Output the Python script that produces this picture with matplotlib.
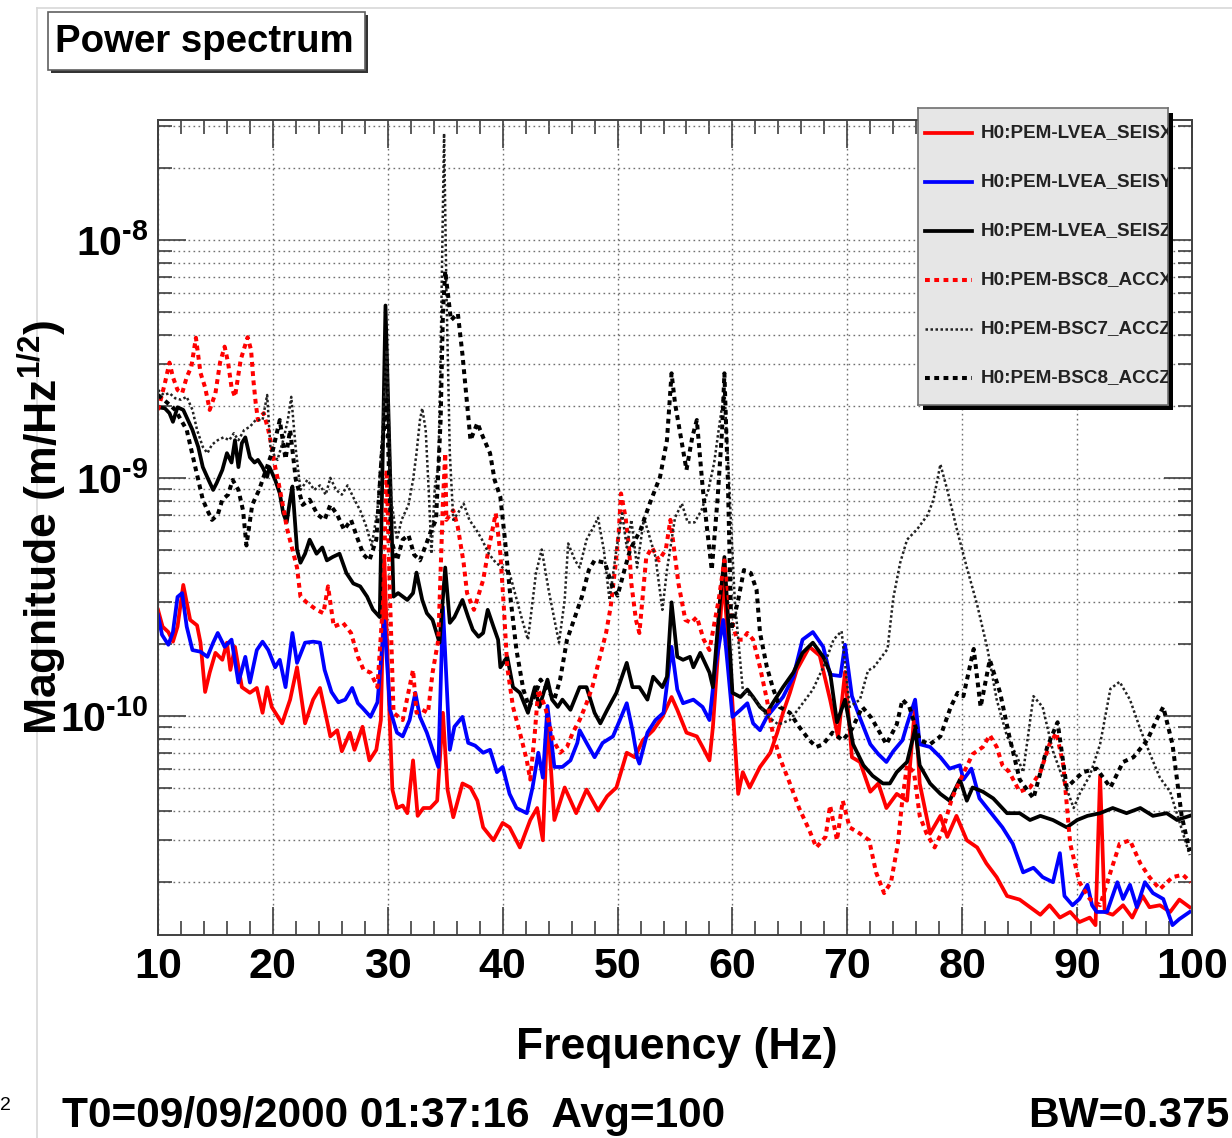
import matplotlib
matplotlib.use('Agg')
import matplotlib.pyplot as plt
import numpy as np
from matplotlib.ticker import MultipleLocator, LogLocator, FixedLocator, FuncFormatter, NullFormatter
from matplotlib.patches import Rectangle
from matplotlib.lines import Line2D

plt.rcParams['font.family'] = ['Liberation Sans', 'DejaVu Sans']
plt.rcParams['font.weight'] = 'bold'
plt.rcParams['mathtext.fontset'] = 'custom'
plt.rcParams['mathtext.rm'] = 'Liberation Sans:bold'
plt.rcParams['mathtext.it'] = 'Liberation Sans:bold:italic'
plt.rcParams['mathtext.bf'] = 'Liberation Sans:bold'
plt.rcParams['mathtext.default'] = 'regular'
plt.rcParams['axes.unicode_minus'] = False

# ---------------- data (magnitudes in units of 1e-10 m/Hz^1/2) ----------------
UNIT = 1e-10
labels = ["H0:PEM-LVEA_SEISX", "H0:PEM-LVEA_SEISY", "H0:PEM-LVEA_SEISZ",
          "H0:PEM-BSC8_ACCX", "H0:PEM-BSC7_ACCZ", "H0:PEM-BSC8_ACCZ"]
xticks = [10, 20, 30, 40, 50, 60, 70, 80, 90, 100]
yticks = [1e-10, 1e-9, 1e-8]

seisx_f = [10.0, 10.4, 10.9, 11.3, 11.7, 12.2, 12.8, 13.4, 13.7, 14.1, 14.5, 15.0, 15.6, 16.0, 16.3, 16.7,
           17.3, 18.0, 18.6, 19.1, 19.5, 19.9, 20.8, 21.5, 22.1, 22.8, 23.5, 24.1, 25.0, 25.6, 26.0, 26.7,
           27.1, 27.8, 28.4, 29.0, 29.4, 29.7, 30.1, 30.4, 30.8, 31.3, 31.7, 32.2, 32.6, 33.1, 33.7, 34.3,
           34.8, 35.2, 35.7, 36.5, 37.2, 37.8, 38.3, 39.2, 40.0, 40.6, 41.5, 42.4, 43.0, 43.5, 43.9, 44.5,
           45.4, 46.4, 47.3, 48.3, 49.1, 49.9, 50.8, 51.5, 52.2, 53.1, 53.9, 54.7, 55.2, 56.0, 56.9, 57.4,
           58.0, 58.3, 59.2, 59.8, 60.5, 60.9, 61.5, 62.4, 63.3, 63.9, 64.4, 65.0, 65.6, 66.7, 67.6, 68.5,
           69.2, 69.8, 70.4, 71.1, 72.0, 72.7, 73.4, 74.3, 75.2, 75.9, 76.3, 77.2, 78.1, 78.7, 79.5, 80.4,
           81.3, 82.1, 83.0, 83.9, 85.0, 85.9, 86.8, 87.6, 88.5, 89.4, 90.2, 91.1, 91.6, 92.0, 92.4, 93.1,
           94.0, 94.8, 95.7, 96.3, 97.2, 98.1, 98.9, 99.8]
seisx_v = [2.79, 2.37, 2.25, 2.05, 2.37, 3.55, 2.53, 2.40, 2.03, 1.26, 1.52, 1.84, 1.72, 2.03, 1.56, 1.95,
           1.32, 1.25, 1.31, 1.03, 1.32, 1.09, 0.93, 1.17, 1.60, 0.93, 1.17, 1.31, 0.82, 0.87, 0.71, 0.85,
           0.72, 0.90, 0.65, 0.72, 0.96, 4.6, 1.17, 0.49, 0.41, 0.42, 0.39, 0.65, 0.38, 0.41, 0.41, 0.44,
           1.03, 0.49, 0.375, 0.52, 0.50, 0.44, 0.34, 0.30, 0.355, 0.34, 0.28, 0.365, 0.41, 0.30, 0.99, 0.365,
           0.50, 0.39, 0.49, 0.40, 0.46, 0.50, 0.70, 0.67, 0.79, 0.87, 0.99, 1.20, 1.06, 0.85, 0.82, 0.74,
           0.65, 0.90, 3.83, 1.61, 0.47, 0.58, 0.50, 0.61, 0.70, 0.85, 1.03, 1.25, 1.56, 1.95, 1.79, 1.17,
           0.81, 1.53, 0.67, 0.64, 0.48, 0.52, 0.41, 0.47, 0.44, 1.11, 0.52, 0.32, 0.38, 0.31, 0.38, 0.30,
           0.28, 0.24, 0.21, 0.175, 0.169, 0.157, 0.146, 0.16, 0.142, 0.15, 0.136, 0.142, 0.132, 0.56, 0.15, 0.146,
           0.16, 0.142, 0.175, 0.157, 0.16, 0.15, 0.169, 0.157]

seisy_f = [10.0, 10.35, 10.9, 11.3, 11.7, 12.1, 12.5, 13.0, 13.7, 14.3, 14.8, 15.2, 15.8, 16.4, 17.0, 17.6,
           18.0, 18.6, 19.1, 19.6, 20.2, 20.6, 21.1, 21.7, 22.1, 22.8, 23.5, 24.1, 24.5, 25.1, 25.7, 26.3,
           26.9, 27.4, 27.8, 28.5, 29.1, 29.7, 30.2, 30.8, 31.3, 31.9, 32.4, 32.8, 33.4, 33.9, 34.4, 34.8,
           35.4, 35.8, 36.5, 37.0, 37.6, 38.3, 38.9, 39.5, 40.0, 40.6, 41.2, 42.1, 42.6, 43.1, 43.5, 43.9,
           44.5, 45.2, 45.9, 46.5, 46.7, 47.3, 48.0, 48.7, 49.6, 50.2, 50.8, 51.3, 51.7, 51.9, 52.6, 53.3,
           54.0, 54.7, 55.2, 55.7, 56.6, 57.4, 58.0, 58.5, 59.2, 59.6, 60.0, 60.7, 61.3, 61.8, 62.4, 63.0,
           63.5, 64.4, 65.3, 66.1, 67.0, 67.9, 68.5, 69.4, 69.8, 70.4, 71.1, 72.0, 72.7, 73.4, 74.0, 74.8,
           75.2, 75.9, 76.3, 77.2, 78.1, 78.9, 79.8, 80.1, 80.8, 81.5, 82.7, 83.5, 84.4, 85.3, 86.2, 87.0,
           87.9, 88.5, 88.9, 89.6, 90.2, 90.9, 91.3, 91.7, 92.6, 93.5, 94.0, 94.6, 95.2, 95.9, 96.6, 97.5,
           98.3, 98.9, 99.8]
seisy_v = [2.66, 2.19, 1.99, 2.25, 3.16, 3.28, 2.37, 1.89, 1.86, 1.77, 2.03, 2.23, 1.95, 2.09, 1.38, 1.77,
           1.38, 1.89, 2.05, 1.89, 1.60, 1.72, 1.32, 2.23, 1.67, 2.03, 2.05, 2.03, 1.56, 1.26, 1.14, 1.17,
           1.31, 1.13, 1.08, 0.99, 1.14, 2.5, 1.06, 0.85, 0.82, 0.96, 1.25, 0.99, 0.85, 0.72, 0.61, 2.87,
           0.72, 0.90, 0.99, 0.77, 0.75, 0.70, 0.72, 0.58, 0.61, 0.47, 0.41, 0.39, 0.50, 0.70, 0.55, 1.10,
           0.61, 0.61, 0.65, 0.77, 0.87, 0.77, 0.67, 0.77, 0.82, 0.96, 1.13, 0.87, 0.67, 0.63, 0.85, 0.96,
           1.03, 1.95, 1.29, 1.13, 1.17, 1.09, 0.96, 1.60, 2.53, 1.60, 0.99, 1.06, 1.13, 0.93, 0.87, 0.99,
           1.06, 1.20, 1.46, 2.09, 2.25, 1.95, 1.49, 1.47, 1.99, 1.21, 0.98, 0.76, 0.69, 0.64, 0.71, 0.79,
           0.92, 1.17, 0.76, 0.74, 0.67, 0.60, 0.62, 0.54, 0.60, 0.45, 0.38, 0.34, 0.29, 0.22, 0.23, 0.21,
           0.20, 0.265, 0.175, 0.16, 0.17, 0.195, 0.16, 0.15, 0.15, 0.20, 0.17, 0.195, 0.157, 0.20, 0.18, 0.17,
           0.132, 0.14, 0.15]

seisz_f = [10.0, 10.6, 11.0, 11.3, 11.7, 12.2, 12.6, 13.0, 13.5, 13.9, 14.4, 14.8, 15.1, 15.6, 16.0, 16.4,
           16.7, 17.0, 17.3, 17.6, 18.0, 18.4, 18.7, 19.1, 19.5, 19.7, 20.2, 20.6, 20.9, 21.2, 21.5, 21.7,
           22.1, 22.4, 22.8, 23.2, 23.8, 24.3, 24.7, 25.2, 25.8, 26.4, 27.0, 27.6, 28.2, 28.7, 29.3, 29.8,
           30.5, 30.9, 31.7, 32.2, 32.5, 33.0, 33.4, 33.9, 34.5, 35.0, 35.4, 35.8, 36.5, 37.0, 37.4, 37.9,
           38.3, 38.7, 39.2, 39.6, 39.8, 40.4, 40.9, 41.5, 42.2, 42.8, 43.2, 43.9, 44.3, 44.8, 45.2, 45.9,
           46.7, 47.3, 48.0, 48.5, 49.1, 49.9, 50.8, 51.3, 51.9, 52.6, 53.1, 53.9, 54.3, 54.7, 55.2, 55.7,
           56.3, 56.6, 57.2, 58.0, 58.3, 58.9, 59.3, 60.0, 60.7, 61.3, 61.8, 62.4, 63.0, 63.5, 64.4, 65.3,
           66.1, 67.0, 67.9, 68.5, 69.1, 69.8, 70.5, 71.4, 72.2, 73.1, 73.7, 74.3, 75.2, 75.9, 76.3, 77.2,
           78.1, 78.9, 79.8, 80.4, 80.9, 81.8, 82.7, 83.9, 85.0, 85.9, 86.8, 87.9, 89.1, 90.0, 90.9, 92.0,
           93.1, 94.3, 95.5, 96.6, 97.8, 98.7, 99.8]
seisz_v = [19.8, 19.6, 18.7, 17.2, 19.8, 19.3, 17.5, 15.9, 13.5, 11.1, 9.8, 8.9, 9.5, 10.8, 12.7, 11.6,
           14.4, 11.1, 14.0, 14.8, 12.2, 11.6, 11.9, 11.1, 10.1, 11.1, 9.8, 8.6, 7.1, 6.5, 8.1, 9.2,
           5.0, 4.4, 4.8, 5.5, 4.8, 5.1, 4.5, 4.65, 4.8, 3.98, 3.6, 3.5, 3.17, 2.8, 2.6, 53.0,
           3.17, 3.28, 3.07, 3.28, 4.0, 3.07, 2.7, 2.53, 2.03, 4.2, 2.46, 2.6, 3.07, 2.6, 2.3, 2.15,
           2.23, 2.79, 2.37, 2.09, 1.6, 1.77, 1.32, 1.25, 1.03, 1.32, 1.09, 1.42, 1.17, 1.09, 1.17, 1.06,
           1.32, 1.32, 1.03, 0.93, 1.06, 1.25, 1.67, 1.32, 1.32, 1.17, 1.46, 1.32, 1.46, 3.0, 1.77, 1.72,
           1.77, 1.6, 1.84, 1.52, 1.32, 3.0, 4.65, 1.25, 1.2, 1.29, 1.2, 1.09, 1.03, 1.13, 1.32, 1.52,
           1.84, 2.03, 1.77, 1.52, 0.94, 1.17, 0.76, 0.62, 0.56, 0.52, 0.52, 0.58, 0.64, 0.88, 0.62, 0.52,
           0.47, 0.44, 0.54, 0.44, 0.50, 0.48, 0.45, 0.39, 0.39, 0.365, 0.38, 0.365, 0.34, 0.365, 0.38, 0.39,
           0.41, 0.39, 0.41, 0.38, 0.39, 0.365, 0.38]

accx8_f = [10.0, 10.3, 10.6, 11.0, 11.3, 11.7, 12.1, 12.5, 12.9, 13.3, 13.7, 14.1, 14.5, 15.0, 15.4, 15.8,
           16.1, 16.4, 16.7, 17.2, 17.8, 18.1, 18.3, 18.5, 18.7, 19.2, 19.6, 19.9, 20.2, 20.5, 21.0, 21.2,
           22.1, 22.4, 23.0, 23.8, 24.4, 24.8, 25.3, 26.1, 26.8, 27.4, 27.9, 28.5, 29.1, 29.6, 29.9, 30.2,
           30.5, 31.3, 32.2, 32.5, 33.0, 33.5, 33.9, 34.4, 34.8, 35.0, 35.1, 35.7, 36.1, 36.6, 36.9, 37.5,
           38.3, 38.8, 39.4, 39.8, 40.1, 40.4, 40.9, 41.5, 42.1, 42.4, 42.8, 43.1, 43.7, 44.4, 45.0, 45.6,
           46.1, 46.7, 47.3, 47.8, 48.4, 49.0, 49.4, 49.8, 50.1, 50.3, 50.7, 51.0, 51.2, 51.6, 51.9, 52.5,
           53.0, 53.6, 54.2, 54.6, 54.9, 55.3, 55.9, 56.4, 56.9, 57.5, 58.0, 58.8, 59.3, 59.9, 60.4, 60.9,
           61.3, 61.8, 62.4, 63.0, 63.5, 64.1, 65.0, 65.8, 66.7, 67.3, 68.1, 68.5, 69.1, 69.6, 70.2, 71.1,
           71.9, 72.5, 73.2, 73.8, 74.4, 74.8, 75.2, 75.8, 76.3, 76.9, 77.6, 78.3, 79.1, 80.0, 80.9, 81.8,
           82.4, 83.0, 83.5, 84.1, 85.0, 85.9, 86.8, 87.6, 88.2, 88.8, 89.4, 90.2, 91.1, 92.0, 92.9, 93.7,
           94.6, 95.5, 96.3, 97.2, 98.3, 99.2, 99.9]
accx8_v = [19.3, 21.9, 25.0, 30.5, 26.5, 23.4, 22.7, 26.5, 29.3, 38.8, 27.6, 24.0, 19.3, 22.7, 30.5, 35.6,
           30.5, 24.0, 21.9, 31.4, 39.0, 34.5, 25.8, 20.7, 17.5, 18.7, 15.9, 13.5, 11.1, 9.5, 7.1, 6.2,
           4.2, 3.17, 2.98, 2.79, 2.7, 3.5, 2.37, 2.46, 2.23, 1.77, 1.56, 1.52, 1.32, 3.07, 10.8, 3.07,
           1.03, 0.96, 1.56, 1.03, 1.06, 1.03, 1.52, 2.09, 7.9, 12.7, 6.66, 7.3, 6.2, 4.4, 3.28, 2.79,
           3.72, 5.1, 7.1, 4.8, 2.87, 1.6, 1.09, 0.85, 0.65, 0.54, 0.85, 1.29, 1.09, 0.79, 0.70, 0.74,
           0.85, 0.96, 1.13, 1.32, 1.72, 2.23, 2.87, 4.2, 5.9, 8.6, 6.8, 5.1, 3.6, 2.53, 2.23, 4.65,
           5.1, 4.5, 5.0, 6.66, 5.1, 3.6, 2.53, 2.46, 2.6, 2.09, 1.89, 3.07, 4.5, 2.53, 2.09, 2.09,
           2.23, 2.09, 1.6, 1.17, 0.85, 0.67, 0.52, 0.41, 0.33, 0.28, 0.31, 0.42, 0.30, 0.44, 0.34, 0.32,
           0.30, 0.22, 0.18, 0.20, 0.29, 0.45, 0.62, 0.58, 0.38, 0.32, 0.28, 0.33, 0.45, 0.56, 0.69, 0.74,
           0.83, 0.74, 0.62, 0.58, 0.48, 0.50, 0.58, 0.76, 0.85, 0.62, 0.29, 0.20, 0.17, 0.16, 0.22, 0.29,
           0.30, 0.24, 0.21, 0.187, 0.21, 0.215, 0.20]

accz7_f = [10.0, 10.5, 11.0, 11.5, 12.0, 12.5, 13.0, 13.4, 13.9, 14.3, 14.7, 15.2, 15.7, 16.2, 16.6, 17.0,
           17.5, 18.0, 18.5, 19.1, 19.5, 19.8, 20.4, 20.9, 21.3, 21.6, 22.0, 22.4, 23.0, 23.6, 24.1, 24.6,
           25.0, 25.5, 26.0, 26.5, 27.1, 27.6, 28.1, 28.6, 29.1, 29.6, 29.9, 30.3, 30.8, 31.2, 31.8, 32.2,
           32.5, 32.8, 33.0, 33.3, 33.6, 33.8, 34.1, 34.4, 34.6, 34.9, 35.1, 35.4, 35.7, 36.1, 36.6, 37.1,
           37.7, 38.2, 38.8, 39.4, 40.0, 40.6, 41.7, 42.2, 42.9, 43.4, 44.0, 44.9, 45.4, 45.7, 46.3, 46.7,
           47.3, 47.9, 48.3, 48.8, 49.3, 49.9, 50.4, 50.8, 51.2, 51.7, 52.3, 53.3, 53.9, 54.3, 55.0, 55.6,
           56.1, 56.7, 57.3, 57.9, 58.4, 58.8, 59.3, 59.7, 60.2, 60.9, 62.0, 63.0, 64.0, 65.0, 66.0, 67.0,
           68.0, 68.8, 69.5, 70.2, 71.1, 71.8, 72.3, 73.5, 74.0, 74.6, 75.2, 76.1, 77.0, 77.5, 78.1, 78.7,
           79.6, 80.4, 81.3, 82.2, 83.0, 83.9, 84.8, 85.3, 86.2, 87.0, 87.9, 88.8, 89.7, 90.3, 91.1, 92.0,
           92.9, 93.7, 94.6, 95.5, 96.3, 97.2, 98.1, 98.9, 99.8]
accz7_v = [23.4, 22.3, 22.7, 21.6, 21.3, 21.9, 19.3, 15.9, 13.5, 12.7, 13.8, 14.4, 14.8, 14.4, 15.4, 14.4,
           15.9, 16.4, 17.5, 17.5, 22.3, 13.1, 11.9, 14.4, 17.5, 21.9, 13.1, 8.9, 9.8, 8.9, 9.3, 8.5,
           10.0, 8.9, 8.5, 9.3, 8.1, 7.3, 6.3, 5.2, 7.3, 17.5, 34.5, 8.1, 5.5, 6.66, 7.7, 9.8,
           12.7, 17.5, 19.6, 15.9, 8.1, 4.8, 9.2, 11.1, 33.0, 280.0, 63.0, 12.7, 6.66, 7.1, 7.8, 6.66,
           6.05, 5.5, 4.8, 4.4, 4.2, 3.98, 2.53, 2.09, 3.98, 5.0, 3.38, 2.03, 3.07, 5.3, 4.5, 4.2,
           5.5, 6.2, 6.8, 5.0, 3.07, 5.0, 7.1, 5.1, 6.66, 4.2, 6.8, 4.65, 2.79, 4.1, 6.8, 7.8,
           6.5, 6.5, 7.3, 8.9, 11.5, 15.9, 23.4, 9.8, 3.07, 1.29, 1.17, 1.0, 0.92, 0.96, 1.11, 1.29,
           1.64, 2.09, 2.27, 1.09, 1.17, 1.55, 1.6, 1.91, 3.13, 4.4, 5.5, 6.1, 7.0, 8.1, 11.4, 8.9,
           5.9, 4.2, 2.93, 1.91, 1.17, 0.82, 0.67, 0.58, 1.21, 1.09, 0.71, 0.54, 0.41, 0.48, 0.56, 0.76,
           1.30, 1.39, 1.17, 0.88, 0.70, 0.55, 0.48, 0.36, 0.26]

accz8_f = [10.0, 10.5, 11.0, 11.5, 12.0, 12.5, 13.0, 13.4, 13.9, 14.3, 14.7, 15.2, 15.6, 16.1, 16.5, 17.0,
           17.4, 17.7, 18.2, 18.8, 19.4, 20.0, 20.6, 21.1, 21.5, 22.0, 22.6, 23.2, 23.9, 24.5, 25.0, 25.6,
           26.2, 26.8, 27.4, 27.9, 28.4, 29.0, 29.5, 29.9, 30.3, 30.8, 31.3, 31.8, 32.3, 32.8, 33.3, 33.8,
           34.2, 34.6, 34.8, 35.0, 35.5, 36.1, 36.5, 36.9, 37.2, 37.8, 38.3, 38.9, 39.3, 39.8, 40.2, 40.7,
           41.2, 41.8, 42.3, 42.8, 43.3, 43.9, 44.5, 45.0, 45.6, 46.0, 46.9, 47.5, 48.0, 48.9, 49.5, 50.0,
           50.6, 51.1, 52.0, 52.8, 53.7, 54.3, 54.7, 55.0, 55.4, 56.0, 56.5, 56.9, 57.4, 57.8, 58.2, 58.7,
           59.1, 59.3, 59.6, 59.9, 60.5, 61.0, 61.6, 62.1, 62.4, 63.0, 63.5, 64.1, 65.0, 65.8, 66.7, 67.3,
           67.9, 68.7, 69.6, 70.4, 71.3, 72.1, 73.4, 74.3, 74.8, 75.4, 76.3, 77.2, 78.1, 79.0, 79.6, 80.1,
           81.0, 81.6, 82.4, 83.3, 84.1, 85.0, 86.2, 87.4, 88.3, 89.1, 90.5, 91.7, 92.9, 94.0, 94.9, 96.1,
           97.0, 97.5, 98.3, 99.1, 99.8]
accz8_v = [22.3, 21.3, 20.3, 19.3, 17.5, 15.9, 12.5, 10.3, 8.1, 7.3, 6.66, 7.0, 8.1, 8.5, 9.8, 8.9,
           7.3, 5.2, 7.7, 8.9, 10.8, 13.1, 17.5, 12.0, 15.9, 9.8, 7.7, 8.1, 7.0, 6.66, 7.7, 7.0,
           6.05, 6.66, 5.5, 4.75, 4.5, 5.5, 13.1, 21.3, 5.5, 4.5, 5.5, 5.75, 4.75, 4.5, 5.2, 6.05,
           6.66, 17.5, 49.0, 74.0, 46.0, 49.0, 33.0, 20.6, 14.4, 17.0, 14.8, 12.7, 9.8, 8.3, 5.5, 3.07,
           1.89, 1.29, 1.09, 1.22, 1.42, 1.29, 1.17, 1.42, 2.09, 2.37, 3.17, 4.1, 4.5, 4.4, 3.55, 3.2,
           4.1, 5.0, 6.05, 7.8, 10.1, 14.4, 27.5, 20.6, 15.9, 10.8, 14.8, 17.5, 9.2, 6.05, 4.1, 8.1,
           15.9, 27.5, 9.8, 2.3, 3.07, 4.1, 3.98, 3.38, 2.23, 1.6, 1.32, 1.09, 1.03, 0.90, 0.79, 0.74,
           0.76, 0.85, 0.79, 0.88, 1.09, 0.98, 0.76, 0.92, 1.17, 1.09, 0.79, 0.76, 0.82, 1.09, 1.25, 1.21,
           1.91, 1.09, 1.72, 1.25, 0.82, 0.54, 0.45, 0.74, 0.94, 0.50, 0.58, 0.60, 0.50, 0.64, 0.67, 0.79,
           0.98, 1.09, 0.76, 0.38, 0.27]

# ---------------- figure ----------------
W, H = 1232, 1138
fig = plt.figure(figsize=(W / 100, H / 100), dpi=100)
fig.patch.set_facecolor('white')

def fx(px):
    return px / W

def fy(py):
    return 1 - py / H

# canvas frame lines
fig.add_artist(Line2D([fx(37), fx(37)], [fy(8), 0], color='#d8d8d8', lw=1.2))
fig.add_artist(Line2D([fx(37), 1], [fy(8), fy(8)], color='#d8d8d8', lw=1.2))

ax = fig.add_axes([fx(158), fy(935), fx(1192) - fx(158), fy(120) - fy(935)])
ax.set_yscale('log')
ax.set_xlim(10, 100)
ax.set_ylim(1.2e-11, 3.19e-8)

HY = '\u2010'  # short hyphen as in the original exponent labels

grid_kw = dict(color='#707070', linestyle=(0, (1.2, 2.4)), linewidth=1.0)
ax.xaxis.set_major_locator(FixedLocator(xticks))
ax.xaxis.set_minor_locator(MultipleLocator(2))
ax.set_xticklabels([str(t) for t in xticks])
ax.yaxis.set_major_locator(FixedLocator(yticks))
ax.yaxis.set_minor_locator(LogLocator(base=10, subs=np.arange(2, 10), numticks=40))
ax.yaxis.set_major_formatter(FuncFormatter(
    lambda v, p: r'$10^{' + HY + '%d}$' % abs(int(round(np.log10(v))))))
ax.yaxis.set_minor_formatter(NullFormatter())
ax.grid(True, which='major', axis='x', **grid_kw)
ax.grid(True, which='both', axis='y', **grid_kw)
ax.set_axisbelow(True)

ax.tick_params(which='both', direction='in', top=True, right=True, color='#404040', width=1.2)
ax.tick_params(which='major', length=20)
ax.tick_params(which='minor', length=10)
ax.tick_params(axis='x', which='major', labelsize=31, pad=9)
ax.tick_params(axis='y', which='major', labelsize=29.5, pad=7)
for sp in ax.spines.values():
    sp.set_color('#404040')
    sp.set_linewidth(1.4)

styles = [
    dict(color='#ff0000', lw=2.7, ls='-'),
    dict(color='#0000ff', lw=2.7, ls='-'),
    dict(color='#000000', lw=2.7, ls='-'),
    dict(color='#ff0000', lw=2.9, ls=(0, (1.2, 1.1))),
    dict(color='#222222', lw=1.8, ls=(0, (1.0, 1.0))),
    dict(color='#000000', lw=2.9, ls=(0, (1.2, 1.1))),
]
series = [(seisx_f, seisx_v), (seisy_f, seisy_v), (seisz_f, seisz_v),
          (accx8_f, accx8_v), (accz7_f, accz7_v), (accz8_f, accz8_v)]
for (f, v), st, lab in zip(series, styles, labels):
    ax.plot(f, np.array(v) * UNIT, label=lab, **st)

# ---------------- legend (ROOT style, with shadow) ----------------
lx0, lx1, ly0, ly1 = 918, 1168, 108, 405
shadow = Rectangle((fx(lx0 + 5), fy(ly1 + 5)), fx(lx1) - fx(lx0), fy(ly0) - fy(ly1),
                   transform=fig.transFigure, facecolor='black', edgecolor='none', zorder=2)
fig.add_artist(shadow)
lax = fig.add_axes([fx(lx0), fy(ly1), fx(lx1) - fx(lx0), fy(ly0) - fy(ly1)])
lax.set_zorder(3)
lax.set_facecolor('#e6e6e6')
lax.set_xlim(0, lx1 - lx0)
lax.set_ylim(ly1 - ly0, 0)
lax.set_xticks([])
lax.set_yticks([])
for sp in lax.spines.values():
    sp.set_color('#707070')
    sp.set_linewidth(1.2)
for i, (st, lab) in enumerate(zip(styles, labels)):
    yy = 25 + 49 * i
    lax.plot([7, 54], [yy, yy], **st)
    lax.text(63, yy, lab, fontsize=13.6, fontweight='bold', va='center', ha='left',
             color='#222222', clip_on=True)

# ---------------- title box ----------------
tx0, tx1, ty0, ty1 = 48, 365, 12, 70
fig.add_artist(Rectangle((fx(tx0 + 3), fy(ty1 + 3)), fx(tx1) - fx(tx0), fy(ty0) - fy(ty1),
                         transform=fig.transFigure, facecolor='#333333', edgecolor='none', zorder=2))
fig.add_artist(Rectangle((fx(tx0), fy(ty1)), fx(tx1) - fx(tx0), fy(ty0) - fy(ty1),
                         transform=fig.transFigure, facecolor='white', edgecolor='#606060',
                         lw=1.2, zorder=3))
fig.text(fx(55), fy(42), 'Power spectrum', fontsize=27.6, fontweight='bold', ha='left', va='center',
         zorder=4)

# ---------------- axis titles & footer ----------------
fig.text(fx(42), fy(527), r'Magnitude (m/Hz$^{1/2}$)', rotation=90, fontsize=32, fontweight='bold',
         ha='center', va='center')
fig.text(fx(677), fy(1047), 'Frequency (Hz)', fontsize=32, fontweight='bold', ha='center', va='center')
fig.text(fx(62), fy(1127), 'T0=09/09/2000 01:37:16  Avg=100', fontsize=30.5, fontweight='bold',
         ha='left', va='baseline')
fig.text(fx(1229), fy(1127), 'BW=0.375', fontsize=30.5, fontweight='bold', ha='right', va='baseline')
fig.text(fx(0), fy(1105), '2', fontsize=14, fontweight='normal', ha='left', va='center')

fig.savefig('out.png', dpi=100, facecolor='white')
